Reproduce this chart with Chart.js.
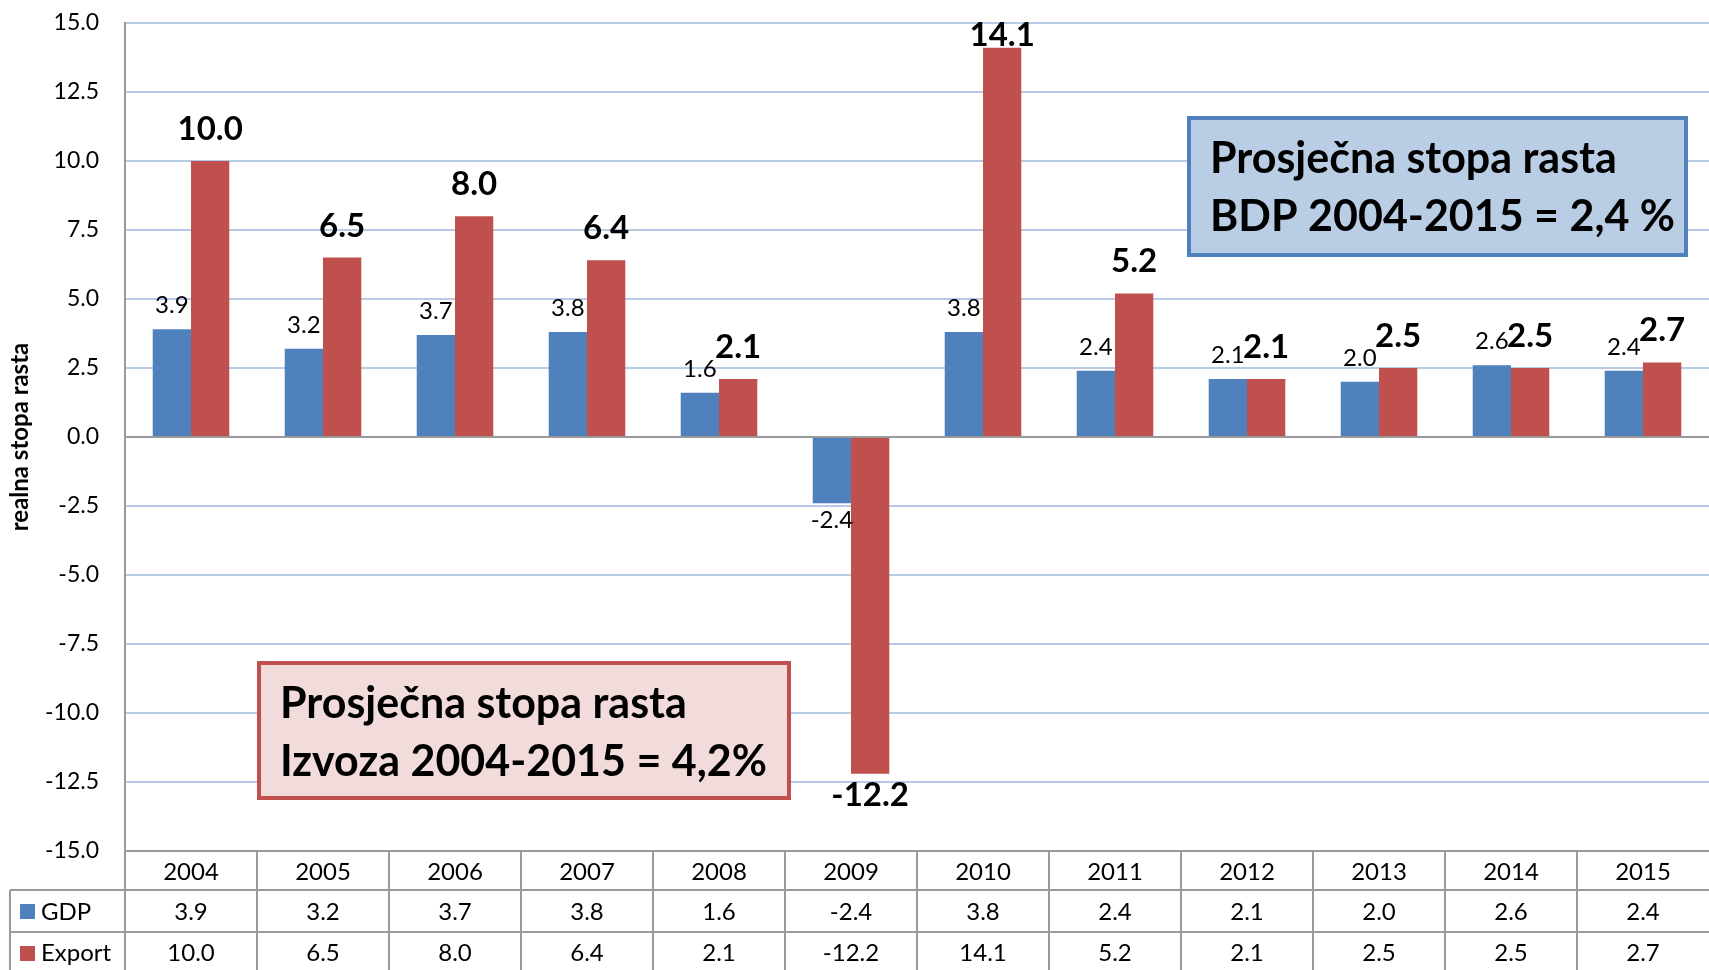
<!DOCTYPE html>
<html>
<head>
<meta charset="utf-8">
<script src="https://cdn.jsdelivr.net/npm/chart.js@4.4.0/dist/chart.umd.min.js"></script>
<style>
  body { margin: 0; background: #fff; }
  #wrap { width: 1709px; height: 970px; }
</style>
</head>
<body>
<div id="wrap"><canvas id="myChart"></canvas></div>
<script>
var years = ['2004', '2005', '2006', '2007', '2008', '2009', '2010', '2011', '2012', '2013', '2014', '2015'];
var gdp = [3.9, 3.2, 3.7, 3.8, 1.6, -2.4, 3.8, 2.4, 2.1, 2.0, 2.6, 2.4];
var exportRast = [10.0, 6.5, 8.0, 6.4, 2.1, -12.2, 14.1, 5.2, 2.1, 2.5, 2.5, 2.7];
var yTicks = [-15, -12.5, -10, -7.5, -5, -2.5, 0, 2.5, 5, 7.5, 10, 12.5, 15];

var FONT = 'Lato, "Noto Sans", sans-serif';
var BLUE = '#4F81BD';
var RED = '#C0504D';
var LINE = '#9a9a9a';

// oznake vrijednosti iznad/ispod stupaca
var labelPlugin = {
  id: 'labels',
  afterDatasetsDraw: function (chart) {
    var ctx = chart.ctx;
    var top = chart.chartArea.top;
    ctx.save();
    ctx.fillStyle = '#000';
    ctx.textAlign = 'center';
    chart.data.datasets.forEach(function (ds, di) {
      var meta = chart.getDatasetMeta(di);
      var bold = di === 1;
      ctx.font = (bold ? 'bold 33px ' : '24px ') + FONT;
      meta.data.forEach(function (bar, i) {
        var v = ds.data[i];
        if (v >= 0) {
          ctx.textBaseline = 'alphabetic';
          var ly = bar.y - (bold ? 21 : 16);
          // oznaka ne smije izaći iznad područja grafikona
          ly = Math.max(ly, top + 23);
          ctx.fillText(v.toFixed(1), bar.x, ly);
        } else {
          ctx.textBaseline = 'top';
          ctx.fillText(v.toFixed(1), bar.x, bar.y + 5);
        }
      });
    });
    ctx.restore();
  }
};

// okviri s prosječnom stopom rasta
var boxPlugin = {
  id: 'boxes',
  afterDatasetsDraw: function (chart) {
    var ctx = chart.ctx;
    function box(x, y, w, h, fill, stroke, lines) {
      ctx.save();
      ctx.fillStyle = fill;
      ctx.fillRect(x, y, w, h);
      ctx.lineWidth = 4;
      ctx.strokeStyle = stroke;
      ctx.strokeRect(x, y, w, h);
      ctx.fillStyle = '#000';
      ctx.font = 'bold 43px ' + FONT;
      ctx.textAlign = 'left';
      ctx.textBaseline = 'alphabetic';
      ctx.fillText(lines[0], x + 21, y + 55);
      ctx.fillText(lines[1], x + 21, y + 113);
      ctx.restore();
    }
    box(1189, 118, 497, 137, '#B9CDE5', BLUE, ['Prosječna stopa rasta', 'BDP 2004-2015 = 2,4 %']);
    box(259, 663, 530, 135, '#F2DCDB', RED, ['Prosječna stopa rasta', 'Izvoza 2004-2015 = 4,2%']);
  }
};

// tablica podataka ispod grafikona
var tablePlugin = {
  id: 'table',
  afterDraw: function (chart) {
    var ctx = chart.ctx;
    var x = chart.scales.x;
    var area = chart.chartArea;
    var row0 = area.bottom;
    var row1 = row0 + 39;
    var row2 = row1 + 42;
    var bottom = chart.height;
    var step = (area.right - area.left) / years.length;
    ctx.save();
    ctx.strokeStyle = LINE;
    ctx.lineWidth = 2;
    ctx.beginPath();
    ctx.moveTo(10, row1); ctx.lineTo(area.right, row1);
    ctx.moveTo(10, row2); ctx.lineTo(area.right, row2);
    ctx.moveTo(10, row1); ctx.lineTo(10, bottom);
    ctx.moveTo(area.left, row0); ctx.lineTo(area.left, bottom);
    for (var k = 1; k < years.length; k++) {
      var lx = area.left + k * step;
      ctx.moveTo(lx, row0); ctx.lineTo(lx, bottom);
    }
    ctx.stroke();

    ctx.fillStyle = '#000';
    ctx.font = '24px ' + FONT;
    ctx.textAlign = 'center';
    ctx.textBaseline = 'middle';
    for (var i = 0; i < years.length; i++) {
      var cx = x.getPixelForValue(i);
      ctx.fillText(gdp[i].toFixed(1), cx, (row1 + row2) / 2 + 1);
      ctx.fillText(exportRast[i].toFixed(1), cx, row2 + 21);
    }
    // legenda
    ctx.textAlign = 'left';
    ctx.fillStyle = BLUE;
    ctx.fillRect(20, (row1 + row2) / 2 - 7, 15, 15);
    ctx.fillStyle = RED;
    ctx.fillRect(20, row2 + 14, 15, 15);
    ctx.fillStyle = '#000';
    ctx.fillText('GDP', 41, (row1 + row2) / 2 + 1);
    ctx.fillText('Export', 41, row2 + 21);
    ctx.restore();
  }
};

var ctx = document.getElementById('myChart').getContext('2d');
var myChart = new Chart(ctx, {
  type: 'bar',
  data: {
    labels: years,
    datasets: [{
      label: 'GDP',
      data: gdp,
      backgroundColor: BLUE,
      categoryPercentage: 0.58,
      barPercentage: 1.0
    }, {
      label: 'Export',
      data: exportRast,
      backgroundColor: RED,
      categoryPercentage: 0.58,
      barPercentage: 1.0
    }]
  },
  options: {
    responsive: true,
    maintainAspectRatio: false,
    animation: false,
    layout: { padding: { top: 23, right: 0, bottom: 80, left: 0 } },
    plugins: {
      legend: { display: false },
      tooltip: { enabled: false }
    },
    scales: {
      x: {
        grid: { display: false, drawTicks: false },
        border: { color: LINE, width: 2 },
        ticks: { color: '#000', font: { family: FONT, size: 24 }, padding: 7, maxRotation: 0 },
        afterFit: function (s) { s.height = 39; }
      },
      y: {
        min: -15,
        max: 15,
        afterBuildTicks: function (s) {
          s.ticks = yTicks.map(function (v) { return { value: v }; });
        },
        grid: {
          drawTicks: false,
          lineWidth: 2,
          color: function (c) { return c.tick && c.tick.value === 0 ? LINE : '#B7CAE6'; }
        },
        border: { color: LINE, width: 2 },
        ticks: {
          color: '#000',
          font: { family: FONT, size: 23 },
          padding: 26,
          callback: function (v) { return Number(v).toFixed(1); }
        },
        title: {
          display: true,
          text: 'realna stopa rasta',
          color: '#000',
          font: { family: FONT, size: 24, weight: 'bold' },
          padding: { top: 6, bottom: 0 }
        },
        afterFit: function (s) {
          s.width = 125;
          s.paddingTop = 0;
          s.paddingBottom = 0;
        }
      }
    }
  },
  plugins: [labelPlugin, boxPlugin, tablePlugin]
});
</script>
</body>
</html>
